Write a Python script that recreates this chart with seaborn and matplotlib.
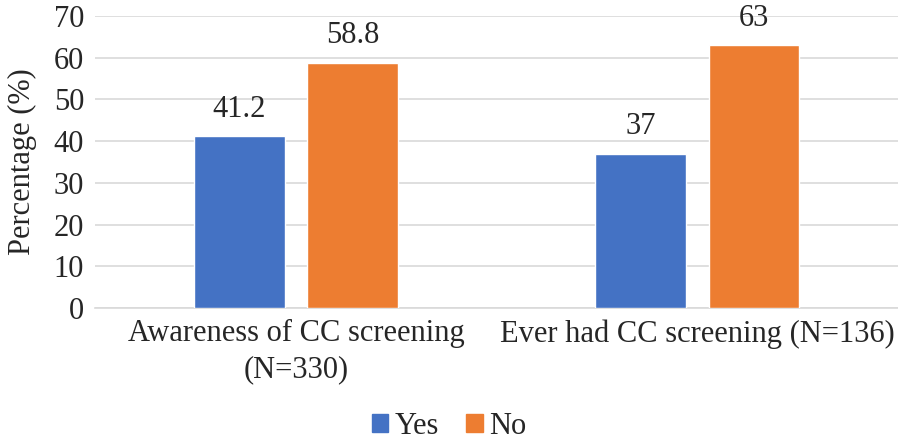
import pandas as pd
import matplotlib.pyplot as plt
import seaborn as sns

# data
categories = ["Awareness of CC screening\n(N=330)", "Ever had CC screening (N=136)"]
responses = ["Yes", "No"]
yes_values = [41.2, 37]
no_values = [58.8, 63]
yes_labels = ["41.2", "37"]
no_labels = ["58.8", "63"]


def main():
    df = pd.DataFrame({
        "category": categories * 2,
        "response": ["Yes"] * len(categories) + ["No"] * len(categories),
        "value": yes_values + no_values,
    })

    sns.set_style("white")
    plt.rcParams["font.family"] = ["Liberation Serif", "DejaVu Serif"]
    fs = 22

    fig = plt.figure(figsize=(8.98, 4.44), dpi=100)
    ax = fig.add_axes([0.106, 0.306, 0.894, 0.658])

    sns.barplot(data=df, x="category", y="value", hue="response",
                hue_order=responses, order=categories,
                palette={"Yes": "#4472C4", "No": "#ED7D31"},
                width=0.564, gap=0.2, saturation=1, ax=ax, zorder=3,
                legend=False)

    # value labels above bars
    for container, labels in zip(ax.containers, [yes_labels, no_labels]):
        ax.bar_label(container, labels=labels, padding=9, fontsize=fs)

    ax.set_ylim(0, 70)
    ax.set_yticks(range(0, 71, 10))
    ax.yaxis.grid(True, color="#D9D9D9", linewidth=1.2, zorder=0)
    ax.set_axisbelow(True)
    for side in ["top", "right", "left"]:
        ax.spines[side].set_visible(False)
    ax.spines["bottom"].set_color("#D9D9D9")
    ax.spines["bottom"].set_linewidth(1.2)
    ax.tick_params(axis="both", length=0, labelsize=fs, pad=8)
    ax.tick_params(axis="x", pad=8)
    for lbl in ax.get_xticklabels():
        lbl.set_linespacing(1.3)
    ax.set_xlabel("")
    ax.set_ylabel("Percentage (%)", fontsize=fs, labelpad=12)

    handles = [plt.Rectangle((0, 0), 1, 1, color=c) for c in ["#4472C4", "#ED7D31"]]
    fig.legend(handles, responses, loc="center", bbox_to_anchor=(0.5, 0.04),
               ncol=2, frameon=False, fontsize=fs, handlelength=0.55,
               handleheight=0.55, handletextpad=0.2, columnspacing=0.9)

    fig.savefig("out.png", dpi=100)
    plt.close(fig)


if __name__ == "__main__":
    main()
